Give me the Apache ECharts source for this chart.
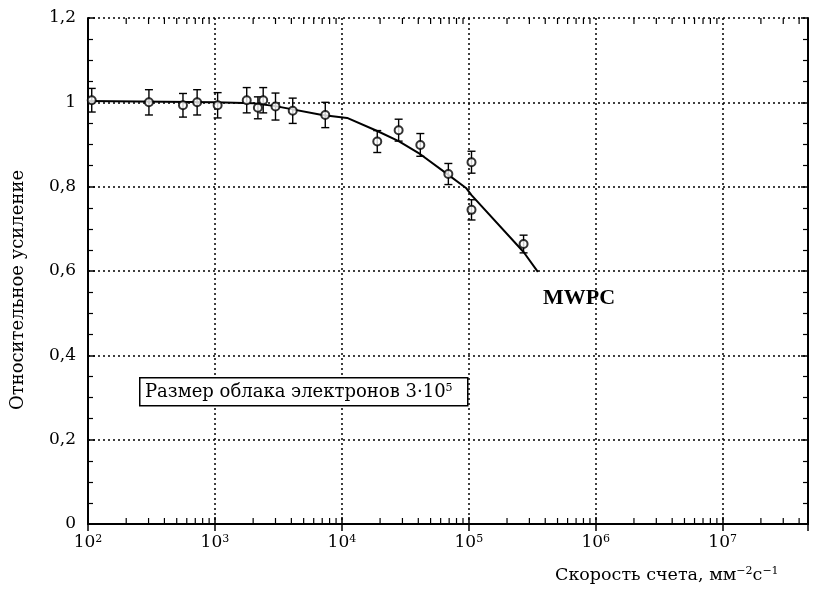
<!DOCTYPE html>
<html><head><meta charset="utf-8">
<script src="https://cdn.jsdelivr.net/npm/echarts@6/dist/echarts.min.js"></script>
<style>html,body{margin:0;padding:0;background:#fff}#c{width:815px;height:598px}</style>
</head><body><div id="c"></div>
<script>
// measured points (rate, relative gain, error)
const rates  = [107, 302, 560, 724, 1050, 1780, 2180, 2400, 3000, 4100, 7400, 19000, 28000, 41500, 69000, 105000, 105000, 270000];
const gains  = [1.005, 1.0, 0.993, 1.0, 0.993, 1.005, 0.987, 1.005, 0.99, 0.98, 0.97, 0.907, 0.934, 0.899, 0.83, 0.858, 0.745, 0.664];
const errors = [0.028, 0.03, 0.028, 0.03, 0.03, 0.03, 0.026, 0.03, 0.032, 0.03, 0.03, 0.026, 0.026, 0.027, 0.025, 0.026, 0.024, 0.021];
// fitted curve
const curveRates = [100, 1000, 2000, 3000, 7000, 11000, 19000, 28000, 41500, 69000, 95000, 105000, 270000, 350000];
const curveGains = [1.003, 1.0, 0.998, 0.991, 0.97, 0.963, 0.932, 0.908, 0.877, 0.828, 0.797, 0.78, 0.645, 0.598];
// axes
const xMin = 100, xMax = 4.7e7;
const yMin = 0, yMax = 1.2, yStep = 0.2;
const curveLabel = 'MWPC';
const boxText = 'Размер облака электронов 3·10{s|5}';
const xTitle = 'Скорость счета, мм{s|−2}с{s|−1}';
const yTitle = 'Относительное усиление';

const FONT = '"DejaVu Serif", "Liberation Serif", serif';
const FONT2 = '"Liberation Serif", serif';
const minorX = [];
for (let e = 2; e <= 7; e++) for (let k = 2; k <= 9; k++) { const v = k * Math.pow(10, e); if (v < xMax) minorX.push([v]); }

const chart = echarts.init(document.getElementById('c'), null, {renderer: 'canvas'});
const supRich = {s: {fontSize: 11, fontFamily: FONT, color: '#000', verticalAlign: 'top', lineHeight: 11}};
const xLabelFmt = v => { const l = Math.log10(v), e = Math.round(l); if (Math.abs(l - e) > 1e-6) return ''; return '10{s|' + e + '}'; };
const axisLine = {show: true, lineStyle: {color: '#000', width: 2}};
const tick = {show: true, inside: true, length: 7, lineStyle: {color: '#000', width: 1.5}};
const grid = {show: true, lineStyle: {color: '#000', width: 1.5, type: [2, 3]}};

chart.setOption({
  animation: false,
  backgroundColor: '#fff',
  grid: {left: 88, right: 7, top: 18, bottom: 74},
  xAxis: [
    {type: 'log', logBase: 10, min: xMin, max: xMax, axisLine, axisTick: tick, splitLine: grid,
     axisLabel: {show: true, margin: 10, formatter: xLabelFmt, fontSize: 17, fontFamily: FONT, color: '#000', rich: supRich, showMaxLabel: false}},
    {type: 'log', logBase: 10, min: xMin, max: xMax, position: 'top', axisLine, axisTick: tick, splitLine: {show: false}, axisLabel: {show: false}}
  ],
  yAxis: [
    {type: 'value', min: yMin, max: yMax, interval: yStep, axisLine, axisTick: tick,
     minorTick: {show: true, splitNumber: 4, length: 5, lineStyle: {color: '#000', width: 1.2}},
     splitLine: grid,
     axisLabel: {margin: 12, fontSize: 17, fontFamily: FONT, color: '#000', formatter: v => String(+v.toFixed(2)).replace('.', ',')}},
    {type: 'value', min: yMin, max: yMax, interval: yStep, position: 'right', axisLine, axisTick: tick,
     minorTick: {show: true, splitNumber: 4, length: 5, lineStyle: {color: '#000', width: 1.2}},
     splitLine: {show: false}, axisLabel: {show: false}}
  ],
  series: [
    {type: 'custom', silent: true, data: minorX, z: 5, clip: false,
     renderItem: (params, api) => {
       const v = api.value(0);
       const b = api.coord([v, yMin]), t = api.coord([v, yMax]);
       return {type: 'group', children: [
         {type: 'line', shape: {x1: b[0], y1: b[1], x2: b[0], y2: b[1] - 6}, style: {stroke: '#000', lineWidth: 1.2}},
         {type: 'line', shape: {x1: t[0], y1: t[1], x2: t[0], y2: t[1] + 6}, style: {stroke: '#000', lineWidth: 1.2}}
       ]};
     }},
    {type: 'line', data: curveRates.map((r, i) => [r, curveGains[i]]), showSymbol: false, symbol: 'none',
     lineStyle: {color: '#000', width: 2}, z: 3},
    {type: 'custom', silent: true, z: 4, data: rates.map((r, i) => [r, gains[i], errors[i]]),
     renderItem: (params, api) => {
       const x = api.value(0), y = api.value(1), e = api.value(2);
       const lo = api.coord([x, y - e]), hi = api.coord([x, y + e]);
       const w = 4;
       const st = {stroke: '#000', lineWidth: 1.4};
       return {type: 'group', children: [
         {type: 'line', shape: {x1: lo[0], y1: lo[1], x2: hi[0], y2: hi[1]}, style: st},
         {type: 'line', shape: {x1: lo[0] - w, y1: lo[1], x2: lo[0] + w, y2: lo[1]}, style: st},
         {type: 'line', shape: {x1: hi[0] - w, y1: hi[1], x2: hi[0] + w, y2: hi[1]}, style: st}
       ]};
     }},
    {type: 'scatter', data: rates.map((r, i) => [r, gains[i]]), symbol: 'emptyCircle', symbolSize: 8, z: 6,
     itemStyle: {color: '#000', borderColor: '#000', borderWidth: 1.8}}
  ],
  graphic: [
    {type: 'text', x: 18, y: 290, rotation: Math.PI / 2, z: 101,
     style: {text: yTitle, font: '18px ' + FONT, fill: '#000', align: 'center', verticalAlign: 'middle'}},
    {type: 'rect', left: 139, top: 377, shape: {width: 328, height: 28}, style: {fill: '#fff', stroke: '#000', lineWidth: 1.5}, z: 100},
    {type: 'text', x: 145, y: 392, z: 101, style: {text: boxText, font: '18px ' + FONT, fill: '#000', verticalAlign: 'middle', rich: {s: {fontSize: 11, fontFamily: FONT, verticalAlign: 'top', lineHeight: 11}}}},
    {type: 'text', left: 543, top: 287, z: 101, style: {text: curveLabel, font: 'bold 22px ' + FONT2, fill: '#000'}},
    {type: 'text', left: 555, top: 566, z: 101, style: {text: xTitle, font: '17.5px ' + FONT, fill: '#000', rich: {s: {fontSize: 11, fontFamily: FONT, verticalAlign: 'top', lineHeight: 11}}}}
  ]
});
</script></body></html>
